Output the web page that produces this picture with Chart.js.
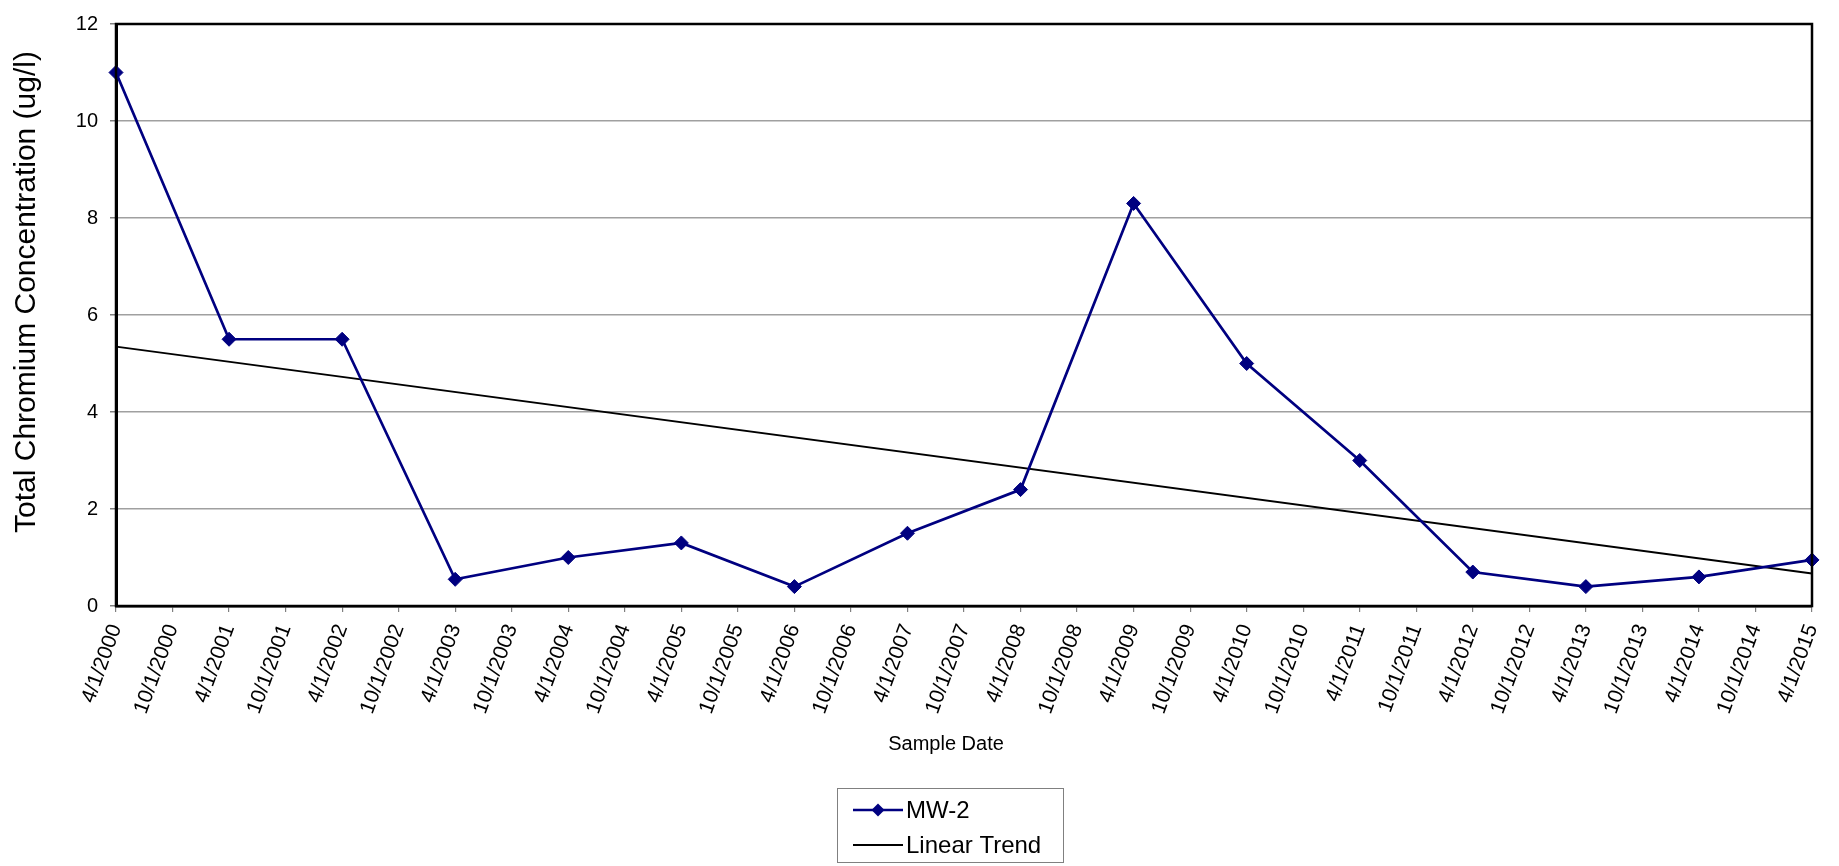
<!DOCTYPE html>
<html>
<head>
<meta charset="utf-8">
<script src="https://cdn.jsdelivr.net/npm/chart.js@4/dist/chart.umd.min.js"></script>
<style>
  html, body { margin: 0; padding: 0; background: #ffffff; }
  #wrap { width: 1839px; height: 866px; }
</style>
</head>
<body>
<div id="wrap"><canvas id="c" width="1839" height="866"></canvas></div>
<script>
// Half-year tick labels along the date axis
const tickLabels = [
  '4/1/2000', '10/1/2000', '4/1/2001', '10/1/2001', '4/1/2002', '10/1/2002',
  '4/1/2003', '10/1/2003', '4/1/2004', '10/1/2004', '4/1/2005', '10/1/2005',
  '4/1/2006', '10/1/2006', '4/1/2007', '10/1/2007', '4/1/2008', '10/1/2008',
  '4/1/2009', '10/1/2009', '4/1/2010', '10/1/2010', '4/1/2011', '10/1/2011',
  '4/1/2012', '10/1/2012', '4/1/2013', '10/1/2013', '4/1/2014', '10/1/2014',
  '4/1/2015'
];

// Annual samples at well MW-2 (total chromium, ug/l)
const sampleDates = [
  '4/1/2000', '4/1/2001', '4/1/2002', '4/1/2003', '4/1/2004', '4/1/2005',
  '4/1/2006', '4/1/2007', '4/1/2008', '4/1/2009', '4/1/2010', '4/1/2011',
  '4/1/2012', '4/1/2013', '4/1/2014', '4/1/2015'
];
const mw2Values = [11, 5.5, 5.5, 0.55, 1.0, 1.3, 0.4, 1.5, 2.4, 8.3, 5.0, 3.0, 0.7, 0.4, 0.6, 0.95];

// Linear trend end points
const trendDates = ['4/1/2000', '4/1/2015'];
const trendValues = [5.35, 0.67];

const yTicks = [0, 2, 4, 6, 8, 10, 12];
const yTitle = 'Total Chromium Concentration (ug/l)';
const xTitle = 'Sample Date';

const FONT = "'Liberation Sans', Arial, sans-serif";
const NAVY = '#000080';

// Black frame round the plot area, plus both axis titles
const framePlugin = {
  id: 'frame',
  afterDraw(chart) {
    const { ctx, chartArea: a } = chart;
    ctx.save();
    ctx.strokeStyle = '#000000';
    ctx.lineWidth = 2.5;
    ctx.strokeRect(a.left, a.top, a.right - a.left, a.bottom - a.top);
    ctx.restore();

    ctx.save();
    ctx.translate(35, 292);
    ctx.rotate(-Math.PI / 2);
    ctx.fillStyle = '#000000';
    ctx.font = '30px ' + FONT;
    ctx.textAlign = 'center';
    ctx.textBaseline = 'alphabetic';
    ctx.fillText(yTitle, 0, 0);
    ctx.restore();

    ctx.save();
    ctx.fillStyle = '#000000';
    ctx.font = '20px ' + FONT;
    ctx.textAlign = 'center';
    ctx.textBaseline = 'middle';
    ctx.fillText(xTitle, 946, 744);
    ctx.restore();
  }
};

// Boxed legend with one row per series
const boxLegendPlugin = {
  id: 'boxLegend',
  afterDraw(chart) {
    const { ctx } = chart;
    const box = { x: 837.5, y: 788.5, w: 226, h: 74 };
    ctx.save();
    ctx.strokeStyle = '#808080';
    ctx.lineWidth = 1;
    ctx.strokeRect(box.x, box.y, box.w, box.h);
    const rows = [810, 845];
    const x0 = 853, x1 = 903;
    chart.data.datasets.forEach((ds, i) => {
      const y = rows[i];
      ctx.strokeStyle = ds.borderColor;
      ctx.lineWidth = ds.borderWidth;
      ctx.beginPath();
      ctx.moveTo(x0, y);
      ctx.lineTo(x1, y);
      ctx.stroke();
      if (ds.pointRadius > 0) {
        const r = 6.5;
        const cx = (x0 + x1) / 2;
        ctx.fillStyle = ds.pointBackgroundColor;
        ctx.beginPath();
        ctx.moveTo(cx, y - r);
        ctx.lineTo(cx + r, y);
        ctx.lineTo(cx, y + r);
        ctx.lineTo(cx - r, y);
        ctx.closePath();
        ctx.fill();
      }
      ctx.fillStyle = '#000000';
      ctx.font = '24px ' + FONT;
      ctx.textAlign = 'left';
      ctx.textBaseline = 'middle';
      ctx.fillText(ds.label, x1 + 3, y + 1);
    });
    ctx.restore();
  }
};

new Chart(document.getElementById('c'), {
  type: 'line',
  data: {
    labels: tickLabels,
    datasets: [
      {
        label: 'MW-2',
        data: sampleDates.map((d, i) => ({ x: d, y: mw2Values[i] })),
        borderColor: NAVY,
        backgroundColor: NAVY,
        pointBackgroundColor: NAVY,
        pointBorderColor: NAVY,
        borderWidth: 2.7,
        pointStyle: 'rectRot',
        pointRadius: 7,
        pointBorderWidth: 1,
        tension: 0,
        fill: false
      },
      {
        label: 'Linear Trend',
        data: trendDates.map((d, i) => ({ x: d, y: trendValues[i] })),
        borderColor: '#000000',
        backgroundColor: '#000000',
        pointBackgroundColor: '#000000',
        borderWidth: 1.8,
        pointRadius: 0,
        tension: 0,
        fill: false
      }
    ]
  },
  options: {
    responsive: false,
    animation: false,
    devicePixelRatio: 1,
    layout: { padding: { left: 0, top: 19, right: 27, bottom: 110 } },
    plugins: {
      legend: { display: false },
      tooltip: { enabled: false }
    },
    scales: {
      x: {
        type: 'category',
        offset: false,
        afterFit(s) {
          s.height = 150;
          s.paddingLeft = 0;
          s.paddingRight = 0;
        },
        grid: {
          drawOnChartArea: false,
          drawTicks: true,
          tickLength: 6,
          tickColor: '#808080',
          lineWidth: 1.2
        },
        border: { display: true, color: '#000000', width: 2.5 },
        ticks: {
          autoSkip: false,
          minRotation: 70,
          maxRotation: 70,
          padding: 9,
          color: '#000000',
          font: { family: FONT, size: 21 }
        },
        title: { display: false }
      },
      y: {
        min: 0,
        max: 12,
        afterFit(s) { s.width = 116; },
        afterBuildTicks(s) { s.ticks = yTicks.map(v => ({ value: v })); },
        grid: {
          color: '#a0a0a0',
          lineWidth: 1.5,
          drawTicks: true,
          tickLength: 6,
          tickColor: '#808080'
        },
        border: { display: true, color: '#000000', width: 3 },
        ticks: {
          padding: 12,
          color: '#000000',
          font: { family: FONT, size: 20 }
        },
        title: { display: false }
      }
    }
  },
  plugins: [framePlugin, boxLegendPlugin]
});
</script>
</body>
</html>
